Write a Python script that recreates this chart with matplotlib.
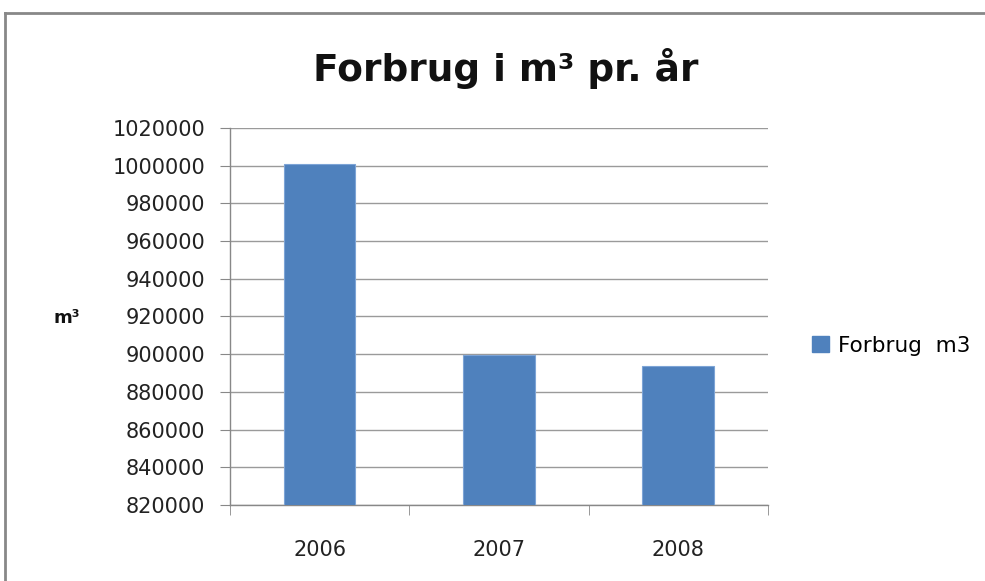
import numpy as np
import matplotlib.pyplot as plt
from matplotlib.lines import Line2D
from matplotlib.patches import Patch

years = ['2006', '2007', '2008']
forbrug = [1001000, 899500, 893600]
yticks = np.arange(820000, 1020001, 20000)

plt.rcParams['font.family'] = ['DejaVu Sans']

fig = plt.figure(figsize=(9.85, 5.81), dpi=100)
ax = fig.add_axes([0.2335, 0.1308, 0.546, 0.649])

x = np.arange(len(years))
ax.bar(x, forbrug, width=0.4, color='#4F81BD', edgecolor='#7DA4D6',
       linewidth=0.8, zorder=3, label='Forbrug  m3')

ax.set_xlim(-0.5, len(years) - 0.5)
ax.set_ylim(820000, 1020000)
ax.set_yticks(yticks)
ax.set_yticklabels([str(v) for v in yticks], fontsize=15, color='#222222')
ax.set_xticks(x)
ax.set_xticklabels(years, fontsize=15, color='#222222')
ax.tick_params(axis='x', length=0, pad=25)
ax.set_xticks(np.arange(-0.5, len(years), 1), minor=True)
ax.tick_params(axis='x', which='minor', length=7, color='#888888', direction='out')
ax.tick_params(axis='y', length=7, color='#888888', pad=11)

ax.grid(axis='y', color='#9a9a9a', linewidth=1.0, zorder=0)
for s in ['top', 'right']:
    ax.spines[s].set_visible(False)
for s in ['left', 'bottom']:
    ax.spines[s].set_color('#888888')
    ax.spines[s].set_linewidth(1.0)

fig.text(0.513, 0.882, 'Forbrug i m³ pr. år', ha='center', va='center',
         fontsize=27, fontweight='bold', color='#111111')
fig.text(0.068, 0.453, 'm³', ha='center', va='center',
         fontsize=13, fontweight='bold', color='#111111')

handles = [Patch(facecolor='#4F81BD', edgecolor='#4F81BD', label='Forbrug  m3')]
fig.legend(handles=handles, loc='center left', bbox_to_anchor=(0.816, 0.405),
           frameon=False, fontsize=15.5, handlelength=0.75, handleheight=0.75,
           handletextpad=0.45, borderaxespad=0)

fig.add_artist(Line2D([0.005, 1.0], [1 - 13 / 581, 1 - 13 / 581],
                      transform=fig.transFigure, color='#888888', linewidth=2))
fig.add_artist(Line2D([0.0055, 0.0055], [0.0, 1 - 13 / 581],
                      transform=fig.transFigure, color='#888888', linewidth=2))

fig.savefig('out.png', dpi=100)
